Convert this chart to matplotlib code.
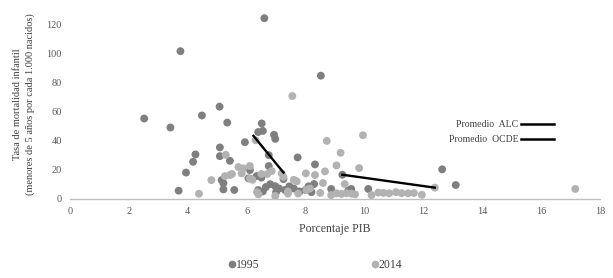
import matplotlib
matplotlib.use("Agg")
import matplotlib.pyplot as plt
from matplotlib.lines import Line2D

# 1995 data (gasto en salud % PIB, mortalidad)
x1995 = [2.52, 3.41, 3.75, 3.69, 3.94, 4.18, 4.26, 4.48, 5.08, 5.09, 5.09, 5.15, 5.21, 5.21,
         5.34, 5.43, 5.58, 5.94, 6.06, 6.11, 6.39, 6.51, 6.55, 6.60, 6.34, 6.50, 6.39, 6.55,
         6.65, 6.75, 6.75, 6.93, 6.97, 6.97, 7.10, 7.25, 7.30, 7.45, 7.60, 7.73, 7.80, 8.00,
         8.10, 8.29, 8.32, 8.52, 8.87, 9.25, 9.45, 9.55, 10.13, 12.64, 13.10, 6.80, 7.00, 8.20]
y1995 = [55.2, 49.0, 101.6, 5.5, 18.0, 25.4, 30.5, 57.3, 63.4, 35.3, 29.3, 12.8, 10.6, 6.4,
         52.4, 26.1, 6.0, 38.9, 14.0, 19.7, 45.9, 51.8, 46.7, 124.3, 15.6, 14.5, 6.0, 5.0,
         8.0, 22.5, 30.0, 44.0, 41.2, 8.6, 7.0, 13.5, 6.0, 8.5, 7.0, 28.4, 5.0, 6.0,
         8.5, 10.1, 23.6, 84.7, 6.7, 16.5, 5.5, 6.7, 6.7, 20.2, 9.4, 10.0, 4.5, 4.5]

# 2014 data
x2014 = [4.38, 4.80, 5.26, 5.29, 5.43, 5.50, 5.72, 5.83, 5.89, 6.11, 6.11, 6.30, 6.20, 6.35,
         6.40, 6.50, 6.70, 6.85, 6.97, 7.19, 7.25, 7.40, 7.40, 7.55, 7.60, 7.70, 7.75, 8.01,
         8.03, 8.15, 8.32, 8.50, 8.59, 8.66, 8.72, 8.87, 9.05, 9.05, 9.19, 9.22, 9.33, 9.39,
         9.55, 9.68, 9.82, 9.95, 10.24, 10.47, 10.64, 10.84, 11.07, 11.26, 11.48, 11.68,
         11.95, 12.39, 17.16]
y2014 = [3.4, 12.8, 15.6, 30.2, 16.3, 17.0, 21.8, 17.4, 20.9, 22.5, 14.0, 40.3, 13.0, 4.5,
         3.0, 17.0, 17.0, 19.0, 1.9, 17.4, 15.0, 3.5, 5.0, 70.7, 13.0, 12.0, 3.5, 17.4,
         6.0, 7.0, 16.3, 4.0, 10.8, 18.8, 39.8, 2.5, 22.9, 3.7, 31.6, 3.3, 10.1, 3.7,
         3.5, 3.0, 21.1, 43.7, 2.5, 4.2, 4.0, 3.7, 4.5, 3.8, 3.7, 3.9,
         2.7, 7.6, 6.7]

# average lines
alc_x = [6.23, 7.25]
alc_y = [43.3, 18.0]
ocde_x = [9.25, 12.39]
ocde_y = [16.5, 7.6]

xticks = [0, 2, 4, 6, 8, 10, 12, 14, 16, 18]
yticks = [0, 20, 40, 60, 80, 100, 120]

plt.rcParams['font.family'] = ['Liberation Serif', 'DejaVu Serif']

fig = plt.figure(figsize=(6.13, 2.78), dpi=100)
ax = fig.add_axes([0.1142, 0.2853, 0.8646, 0.679])

c95 = '#7f7f7f'
c14 = '#b2b2b2'
ax.scatter(x1995, y1995, s=32, color=c95, edgecolors='none', zorder=3)
ax.scatter(x2014, y2014, s=32, color=c14, edgecolors='none', zorder=3)
ax.plot(alc_x, alc_y, color='black', lw=1.7, zorder=4)
ax.plot(ocde_x, ocde_y, color='black', lw=1.7, zorder=4)

ax.set_xlim(0, 18)
ax.set_ylim(0, 130)
ax.set_xticks(xticks)
ax.set_yticks(yticks)
ax.tick_params(length=0, labelsize=7.5, labelcolor='#595959', pad=6)
for s in ['top', 'right', 'left']:
    ax.spines[s].set_visible(False)
ax.spines['bottom'].set_color('#bfbfbf')
ax.spines['bottom'].set_linewidth(1.0)

ax.set_xlabel('Porcentaje PIB', fontsize=8.5, color='#404040', labelpad=5)
ax.set_ylabel('Tasa de mortalidad infantil\n(menores de 5 años por cada 1.000 nacidos)',
              fontsize=7.5, color='#404040', labelpad=8, linespacing=1.5)

# in-plot legend for average lines
h_alc = Line2D([], [], color='black', lw=1.8)
h_ocde = Line2D([], [], color='black', lw=1.8)
leg = ax.legend([h_alc, h_ocde], ['Promedio  ALC', 'Promedio  OCDE'], markerfirst=False,
                loc='center right', bbox_to_anchor=(0.912, 0.525), bbox_transform=fig.transFigure,
                frameon=False, fontsize=7, handlelength=3.4, handletextpad=0.3,
                labelspacing=0.6, borderpad=0)
for t in leg.get_texts():
    t.set_color('#404040')

# bottom legend for years
h95 = Line2D([], [], marker='o', color=c95, lw=0, markersize=4.5)
h14 = Line2D([], [], marker='o', color=c14, lw=0, markersize=4.5)
leg2 = fig.legend([h95, h14], ['1995', '2014'], loc='center', bbox_to_anchor=(0.515, 0.045),
                  ncol=2, frameon=False, fontsize=8.5, handlelength=0.5, handletextpad=0.1,
                  columnspacing=9.5)
for t in leg2.get_texts():
    t.set_color('#404040')

fig.savefig('out.png', dpi=100)
